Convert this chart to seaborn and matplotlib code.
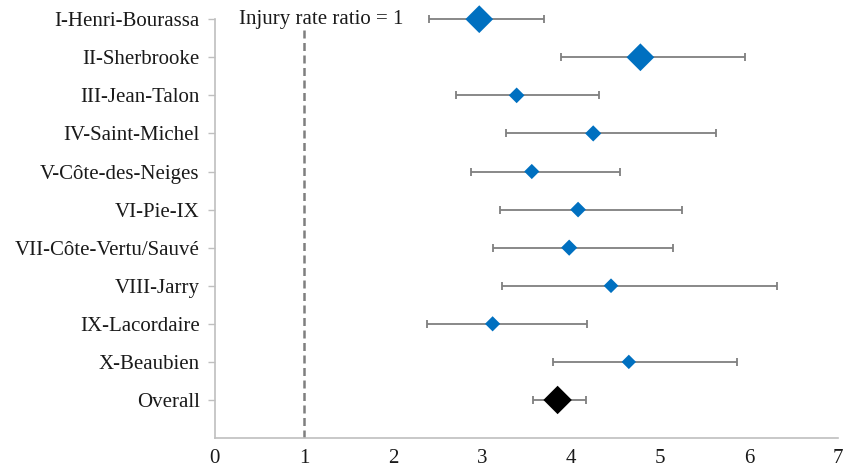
import numpy as np
import pandas as pd
import matplotlib
matplotlib.use("Agg")
import matplotlib.pyplot as plt
import seaborn as sns

# data
districts = ["I-Henri-Bourassa", "II-Sherbrooke", "III-Jean-Talon", "IV-Saint-Michel",
             "V-Côte-des-Neiges", "VI-Pie-IX", "VII-Côte-Vertu/Sauvé", "VIII-Jarry",
             "IX-Lacordaire", "X-Beaubien", "Overall"]
ratio = [2.97, 4.78, 3.39, 4.25, 3.56, 4.08, 3.98, 4.45, 3.12, 4.65, 3.85]
ci_low = [2.40, 3.89, 2.71, 3.27, 2.88, 3.20, 3.12, 3.22, 2.38, 3.80, 3.57]
ci_high = [3.70, 5.96, 4.31, 5.63, 4.55, 5.25, 5.15, 6.31, 4.18, 5.87, 4.17]
marker_area = [200, 200, 64, 68, 60, 64, 68, 56, 60, 54, 210]
x_ticks = [0, 1, 2, 3, 4, 5, 6, 7]

df = pd.DataFrame({"district": districts, "ratio": ratio,
                   "low": ci_low, "high": ci_high, "area": marker_area})
df["row"] = np.arange(len(df))
df["group"] = ["district"] * (len(df) - 1) + ["overall"]

sns.set_theme(style="white")
plt.rcParams["font.family"] = ["Liberation Serif", "DejaVu Serif"]

fig = plt.figure(figsize=(8.56, 4.68), dpi=100)
ax = fig.add_axes([0.251, 0.064, 0.728, 0.895])

grey = "#7f7f7f"
ax.errorbar(df["ratio"], df["row"],
            xerr=[df["ratio"] - df["low"], df["high"] - df["ratio"]],
            fmt="none", ecolor=grey, elinewidth=1.3, capsize=2.8, capthick=1.3,
            zorder=2, clip_on=False)

sns.scatterplot(data=df, x="ratio", y="row", hue="group", size="area",
                sizes=(min(marker_area), max(marker_area)), size_norm=(min(marker_area), max(marker_area)),
                palette={"district": "#0070c0", "overall": "#000000"},
                marker="D", edgecolor="none", linewidth=0, legend=False,
                ax=ax, zorder=3, clip_on=False)

ax.axvline(1, ymin=0, ymax=1 - 0.28 / 11, color=grey, linestyle=(0, (3.2, 1.8)), linewidth=1.8, zorder=1)
ax.text(1.19, 0, "Injury rate ratio = 1", ha="center", va="center", fontsize=15, color="#1a1a1a")

ax.set_xlim(0, 7)
ax.set_ylim(11, 0)
ax.set_xticks(x_ticks)
ax.set_yticks(df["row"])
ax.set_yticklabels(districts)
ax.set_xlabel("")
ax.set_ylabel("")
ax.tick_params(axis="y", which="major", left=True, length=5, width=1, color="#bfbfbf",
               labelsize=15, labelcolor="#1a1a1a", pad=6)
ax.tick_params(axis="x", bottom=False, labelsize=15, labelcolor="#1a1a1a", pad=2)

for side in ["top", "right"]:
    ax.spines[side].set_visible(False)
for side in ["left", "bottom"]:
    ax.spines[side].set_color("#bfbfbf")
    ax.spines[side].set_linewidth(1.2)

fig.savefig("out.png", dpi=100)
